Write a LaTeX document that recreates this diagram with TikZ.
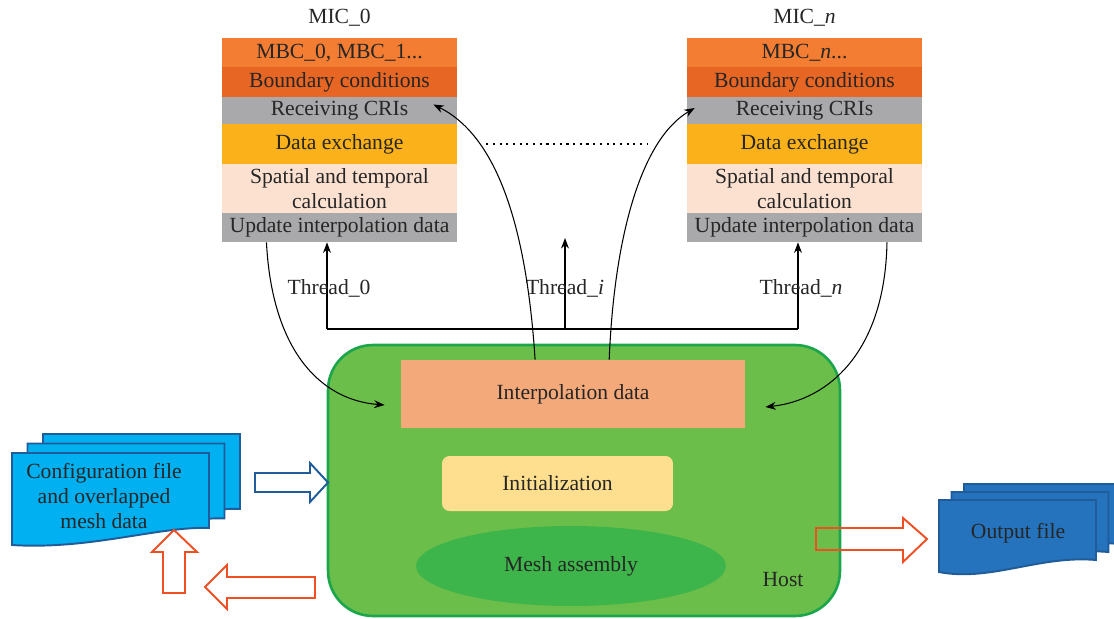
\documentclass[tikz,border=0pt]{standalone}
\usepackage{fontspec}
\setmainfont{Liberation Serif}
\usetikzlibrary{shapes.geometric,calc,arrows.meta}
\definecolor{mbc orange}{HTML}{F37D32}
\definecolor{bc orange}{HTML}{E76624}
\definecolor{cri gray}{HTML}{A9A9AB}
\definecolor{dx yellow}{HTML}{FBB119}
\definecolor{st peach}{HTML}{FCE1D1}
\definecolor{host green}{HTML}{6BBE4A}
\definecolor{host edge}{HTML}{1CA64B}
\definecolor{interp salmon}{HTML}{F4A97A}
\definecolor{init yellow}{HTML}{FEDF8F}
\definecolor{mesh green}{HTML}{3DB54A}
\definecolor{cfg blue}{HTML}{00B0F0}
\definecolor{doc edge}{HTML}{1F5C99}
\definecolor{out blue}{HTML}{2473BC}
\definecolor{blk red}{HTML}{F04E23}

\begin{document}
\begin{tikzpicture}[x=0.02cm, y=-0.02cm,
    every node/.style={font=\fontsize{12.3}{14}\selectfont, text=black!85},
    layer/.style={minimum width=4.7cm, inner sep=0pt, align=center},
    link/.style={line width=0.6pt, -{Stealth[length=6pt, width=4.5pt]}},
    blockarrow/.style={line width=1.1pt, line join=miter}]
\useasboundingbox (0,0) rectangle (1114,618);

% the two MIC stacks
\foreach \cx/\s/\lab/\top in {339.5/a/{MIC\_0}/{MBC\_0, MBC\_1...}, 804.5/b/{MIC\_\textit{n}}/{MBC\_\textit{n}...}} {
    \node (mic\s) at (\cx,18) {\lab};
    \node [layer, fill=mbc orange, minimum height=0.58cm] (\s1) at (\cx,52.5) {\top};
    \node [layer, fill=bc orange, minimum height=0.60cm] (\s2) at (\cx,82) {Boundary conditions};
    \node [layer, fill=cri gray, minimum height=0.54cm] (\s3) at (\cx,110.5) {Receiving CRIs};
    \node [layer, fill=dx yellow, minimum height=0.80cm] (\s4) at (\cx,144) {Data exchange};
    \node [layer, fill=st peach, minimum height=0.98cm] (\s5) at (\cx,188.5) {Spatial and temporal\\calculation};
    \node [layer, fill=cri gray, minimum height=0.58cm] (\s6) at (\cx,227.5) {Update interpolation data};
}
\draw [line width=0.7pt, dash pattern=on 1.2pt off 2.6pt, shorten <=0.58cm, shorten >=0.78cm] (a4) -- (b4);

% host
\node [draw=host edge, line width=1.5pt, fill=host green, rounded corners=0.9cm, minimum width=10.24cm, minimum height=5.42cm] (host) at (584,480.5) {};
\node [fill=interp salmon, minimum width=6.88cm, minimum height=1.36cm] (interp) at (573,394) {Interpolation data};
\node [fill=init yellow, rounded corners=0.15cm, minimum width=4.62cm, minimum height=1.1cm] (init) at (557.5,483.5) {Initialization};
\node [ellipse, fill=mesh green, minimum width=6.2cm, minimum height=1.6cm] (mesh) at (571,566) {Mesh assembly};
\node (hostlab) at (783,580) {Host};

% threads
\coordinate (bus0) at (327,329);
\coordinate (busi) at (565,329);
\coordinate (busn) at (798,329);
\coordinate (midtip) at (565,238);
\draw [line width=0.6pt] (bus0) -- (busn);
\draw [link] (bus0) -- (bus0 |- a6.south);
\draw [link] (busi) -- (midtip);
\draw [link] (busn) -- (busn |- b6.south);
\node (th0) at (329,288) {Thread\_0};
\node (thi) at (565,288) {Thread\_\textit{i}};
\node (thn) at (801,288) {Thread\_\textit{n}};

\draw [link] ($(a6.south west)!0.19!(a6.south east)$) .. controls (272,350) and (320,400) .. ([xshift=-0.32cm, yshift=-0.22cm]interp.west);
\draw [link] ($(interp.north west)!0.39!(interp.north east)$) .. controls (528,250) and (505,140) .. ([xshift=-0.48cm, yshift=0.12cm]a3.east);
\draw [link] ($(interp.north west)!0.605!(interp.north east)$) .. controls (614,240) and (640,140) .. ([xshift=0.16cm, yshift=0.05cm]b3.west);
\draw [link] ($(b6.south west)!0.85!(b6.south east)$) .. controls (885,350) and (830,400) .. ([xshift=0.4cm, yshift=-0.26cm]interp.east);

% input documents
\foreach \d in {2,1,0}
    \draw [line width=1.1pt, draw=doc edge, fill=cfg blue, shift={(\d*15.5,-\d*9.5)}] (12,453) -- (209,453) -- (209,528) .. controls (160,526) and (90,550) .. (12,545) -- cycle;
\node [align=center] (cfg) at (104,496) {Configuration file\\and overlapped\\mesh data};

% output documents
\foreach \d in {2,1,0}
    \draw [line width=1.1pt, draw=doc edge, fill=out blue, shift={(\d*12.5,-\d*8)}] (939,500) -- (1096,500) -- (1096,560) .. controls (1040,555) and (990,582) .. (939,572) -- cycle;
\node (out) at (1018,533) {Output file};

% block arrows
\draw [blockarrow, draw=doc edge, fill=white] (255,473) -- (310,473) -- (310,463) -- (328,482.5) -- (310,502) -- (310,492) -- (255,492) -- cycle;
\draw [blockarrow, draw=blk red] (163,593) -- (163,552) -- (152,552) -- (174,530) -- (197,552) -- (185,552) -- (185,593) -- cycle;
\draw [blockarrow, draw=blk red] (315,577) -- (227,577) -- (227,565) -- (205,587) -- (227,609) -- (227,598) -- (315,598) -- cycle;
\draw [blockarrow, draw=blk red] (816,528) -- (903,528) -- (903,518) -- (927,539) -- (903,562) -- (903,550) -- (816,550) -- cycle;
\end{tikzpicture}
\end{document}
